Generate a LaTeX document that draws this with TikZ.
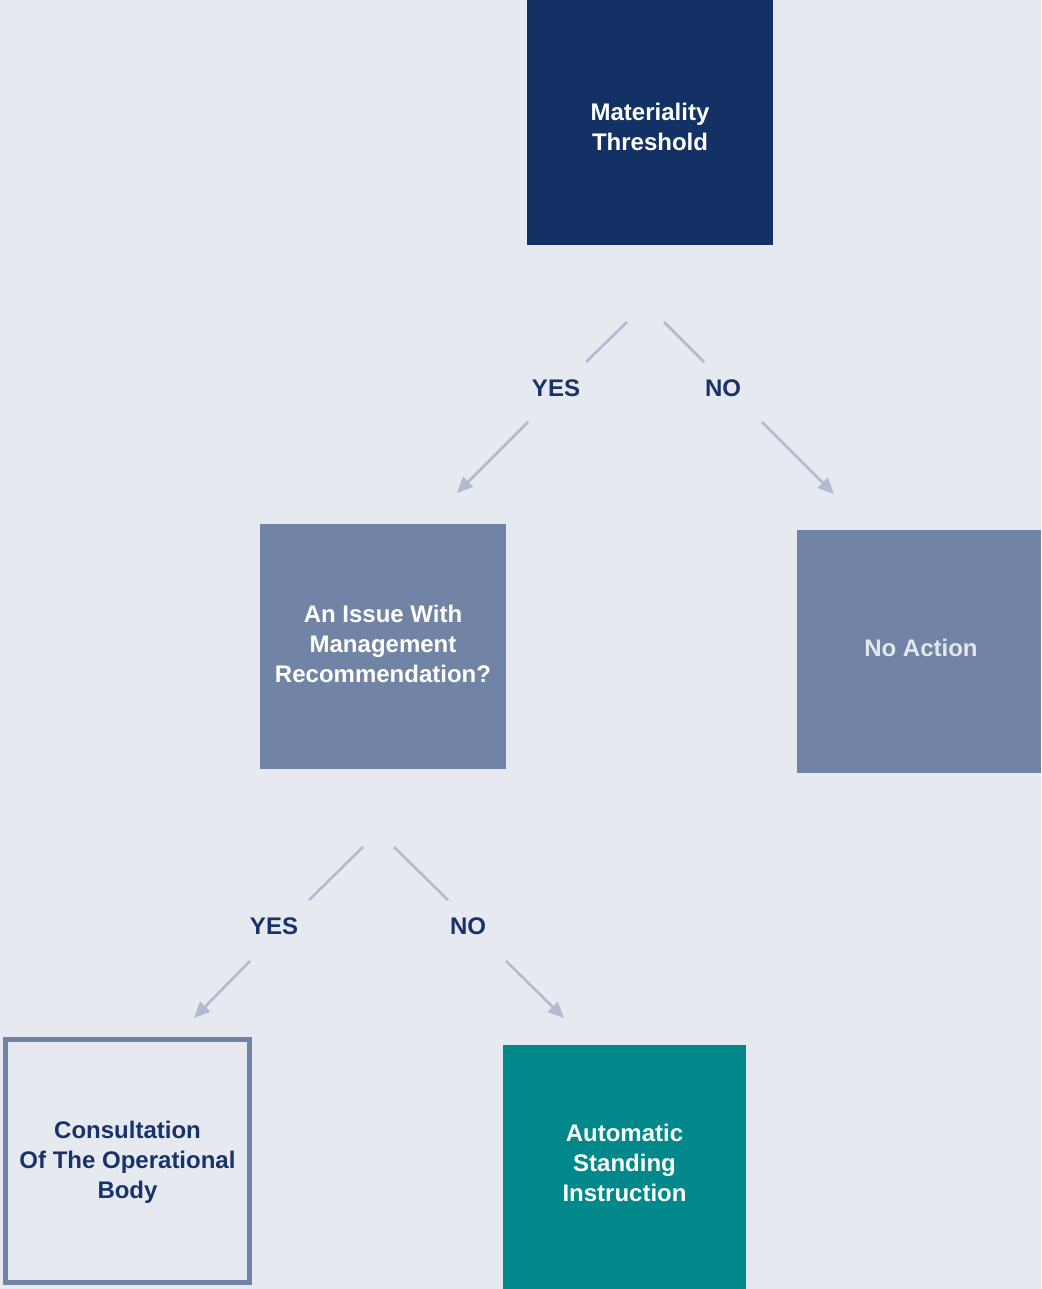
\documentclass[tikz,border=0pt]{standalone}
\usepackage{fontspec}
\setmainfont{Liberation Sans}
\usetikzlibrary{arrows.meta}
\definecolor{bg}{HTML}{E6E9EF}
\definecolor{navy}{HTML}{143166}
\definecolor{slate}{HTML}{7284A6}
\definecolor{teal2}{HTML}{01888A}
\definecolor{conn}{HTML}{B0BBD0}
\definecolor{navytext}{HTML}{17336A}
\definecolor{palewhite}{HTML}{E3E7EE}
\begin{document}
\begin{tikzpicture}[x=1pt,y=-1pt,
  box/.style={draw=none,minimum width=246pt,minimum height=245pt,inner sep=0pt},
  txt/.style={align=center,inner sep=0pt,font=\fontsize{24}{30}\selectfont\bfseries},
  lbl/.style={font=\fontsize{24}{30}\selectfont\bfseries,text=navytext,inner sep=0pt},
  conn/.style={draw=conn,line width=2.5pt},
  arr/.style={conn,-{Triangle[length=16pt,width=14pt]}}]
\fill[bg] (0,0) rectangle (1041,1289);
\useasboundingbox (0,0) rectangle (1041,1289);
% boxes
\node[box,fill=navy] (mt) at (650,122.5) {};
\node[txt,text=white] (mtt) at ([yshift=-4pt]mt.center) {Materiality\\Threshold};
\node[box,fill=slate] (issue) at (383,646.5) {};
\node[txt,text=white] (issuet) at ([yshift=3pt]issue.center) {An Issue With\\Management\\Recommendation?};
\node[box,fill=slate,minimum width=244pt,minimum height=243pt] (noact) at (919,651.5) {};
\node[txt,text=palewhite] (noactt) at ([xshift=2pt,yshift=4pt]noact.center) {No Action};
\node[box,draw=slate,line width=5pt,minimum width=244pt,minimum height=243pt] (cons) at (127.5,1161) {};
\node[txt,text=navytext] (const) at ([yshift=-1pt]cons.center) {Consultation\\Of The Operational\\Body};
\node[box,fill=teal2,minimum width=243pt,minimum height=244pt] (auto) at (624.5,1167) {};
\node[txt,text=white] (autot) at ([yshift=4pt]auto.center) {Automatic\\Standing\\Instruction};
% labels
\node[lbl] (yes1) at (556,388) {YES};
\node[lbl] (no1) at (723,388) {NO};
\node[lbl] (yes2) at (274,926) {YES};
\node[lbl] (no2) at (468,926) {NO};
% connector ends
\coordinate (s1) at (627,322);
\coordinate (m1) at (586,362);
\coordinate (n1) at (528,422);
\coordinate (e1) at (457,493);
\coordinate (s2) at (664,322);
\coordinate (m2) at (704,362);
\coordinate (n2) at (762,422);
\coordinate (e2) at (834,494);
\coordinate (s3) at (363,847);
\coordinate (m3) at (309,900);
\coordinate (n3) at (250,961);
\coordinate (e3) at (194,1018);
\coordinate (s4) at (394,847);
\coordinate (m4) at (448,900);
\coordinate (n4) at (506,961);
\coordinate (e4) at (564,1018);
\draw[conn] (s1) -- (m1);
\draw[arr] (n1) -- (e1);
\draw[conn] (s2) -- (m2);
\draw[arr] (n2) -- (e2);
\draw[conn] (s3) -- (m3);
\draw[arr] (n3) -- (e3);
\draw[conn] (s4) -- (m4);
\draw[arr] (n4) -- (e4);
\end{tikzpicture}
\end{document}
